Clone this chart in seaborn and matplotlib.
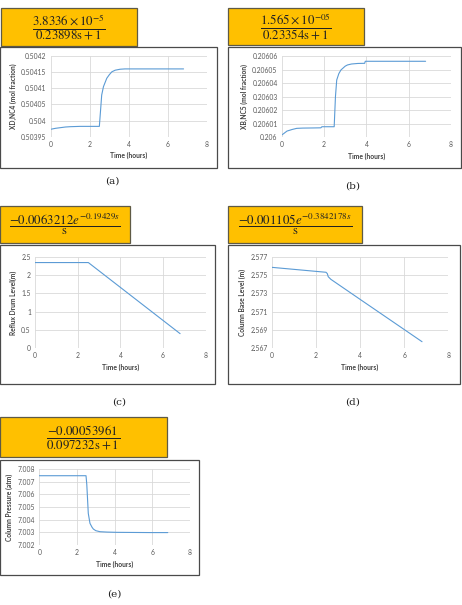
import numpy as np
import seaborn as sns
import matplotlib.pyplot as plt
from matplotlib.patches import Rectangle

# (a) distillate NC4 composition
t_a = [0, 0.25, 0.5, 0.75, 1.0, 1.5, 2.0, 2.49, 2.55, 2.61, 2.7, 2.87, 3.0, 3.13, 3.3, 3.55, 3.8, 4.07, 5.0, 6.0, 6.8]
xd_nc4 = [0.503973, 0.503976, 0.503978, 0.503980, 0.503981, 0.503982, 0.503982, 0.503982, 0.504030, 0.504079,
          0.504105, 0.504131, 0.504142, 0.504151, 0.504156, 0.504159, 0.504160, 0.504160, 0.504160, 0.504160, 0.504160]
ticks_a = [0.50395, 0.504, 0.50405, 0.5041, 0.50415, 0.5042]
labels_a = ['0.50395', '0.504', '0.50405', '0.5041', '0.50415', '0.5042']

# (b) bottoms NC5 composition
t_b = [0, 0.1, 0.25, 0.5, 0.71, 1.0, 1.5, 1.85, 1.9, 2.48, 2.54, 2.6, 2.7, 2.8, 3.0, 3.11, 3.3, 3.6, 3.92, 3.95, 5.0, 6.0, 6.8]
xb_nc5 = [0.2060017, 0.2060028, 0.2060046, 0.2060058, 0.2060066, 0.2060068, 0.2060069, 0.2060070, 0.2060078,
          0.2060078, 0.2060300, 0.2060423, 0.2060470, 0.2060497, 0.2060525, 0.2060534, 0.2060541, 0.2060545,
          0.2060546, 0.2060561, 0.2060561, 0.2060561, 0.2060561]
ticks_b = [0.206, 0.20601, 0.20602, 0.20603, 0.20604, 0.20605, 0.20606]
labels_b = ['0.206', '0.20601', '0.20602', '0.20603', '0.20604', '0.20605', '0.20606']

# (c) reflux drum level
t_c = [0, 2.5, 6.8]
reflux_level = [2.34, 2.34, 0.40]
ticks_c = [0, 0.5, 1, 1.5, 2, 2.5]
labels_c = ['0', '0.5', '1', '1.5', '2', '2.5']

# (d) column base level
t_d = [0, 1.0, 2.0, 2.46, 2.52, 2.56, 2.68, 4.0, 5.5, 6.81]
base_level = [2.57584, 2.57562, 2.57540, 2.57530, 2.57515, 2.57482, 2.57453, 2.57235, 2.56988, 2.56772]
ticks_d = [2.567, 2.569, 2.571, 2.573, 2.575, 2.577]
labels_d = ['2.567', '2.569', '2.571', '2.573', '2.575', '2.577']

# (e) column pressure
t_e = [0, 2.48, 2.52, 2.55, 2.6, 2.69, 2.8, 2.87, 3.0, 3.22, 3.6, 4.1, 5.0, 6.0, 6.82]
pressure = [7.00747, 7.00747, 7.0068, 7.00595, 7.0045, 7.00371, 7.0034, 7.00326, 7.00313, 7.00305, 7.00302,
            7.00300, 7.00299, 7.00298, 7.00298]
ticks_e = [7.002, 7.003, 7.004, 7.005, 7.006, 7.007, 7.008]
labels_e = ['7.002', '7.003', '7.004', '7.005', '7.006', '7.007', '7.008']

x_ticks = [0, 2, 4, 6, 8]

sns.set_style('white')
plt.rcParams['font.family'] = ['Lato', 'DejaVu Sans']
plt.rcParams['mathtext.fontset'] = 'stix'

W, H = 462, 605
fig = plt.figure(figsize=(W / 100, H / 100), dpi=100)


def rect(x0, y0, x1, y1):
    return [x0 / W, 1 - y1 / H, (x1 - x0) / W, (y1 - y0) / H]


def box(x0, y0, x1, y1, fc, ec, lw):
    r = Rectangle((x0 / W, 1 - y1 / H), (x1 - x0) / W, (y1 - y0) / H, transform=fig.transFigure,
                  facecolor=fc, edgecolor=ec, linewidth=lw, zorder=0)
    fig.add_artist(r)


def panel(ybox, formula, cbox, plot, tag, tagpos, t, y, ticks, labels, ylabel):
    box(*ybox, '#FFC000', '#5f5a45', 0.9)
    fig.text((ybox[0] + ybox[2]) / 2 / W, 1 - (ybox[1] + ybox[3]) / 2 / H, formula,
             ha='center', va='center', fontsize=9.3, color='#222222')
    box(*cbox, 'white', '#4a4a4a', 0.9)
    ax = fig.add_axes(rect(*plot))
    ax.patch.set_alpha(0)
    sns.lineplot(x=t, y=y, ax=ax, color='#5B9BD5', linewidth=0.8)
    ax.set_xlim(0, 8)
    ax.set_ylim(ticks[0], ticks[-1])
    ax.set_xticks(x_ticks)
    ax.set_xticklabels([str(v) for v in x_ticks])
    ax.set_yticks(ticks)
    ax.set_yticklabels(labels)
    ax.tick_params(length=0, labelsize=4.9, colors='#595959', pad=3)
    ax.grid(True, color='#D9D9D9', linewidth=0.6)
    for s in ax.spines.values():
        s.set_visible(False)
    ax.set_xlabel('Time (hours)', fontsize=4.9, fontweight='bold', color='#404040', labelpad=3)
    ax.set_ylabel(ylabel, fontsize=4.8, fontweight='bold', color='#404040', labelpad=3)
    fig.text(tagpos[0] / W, 1 - tagpos[1] / H, tag, ha='center', va='center', fontsize=7.5,
             family='DejaVu Serif', color='#222222')
    return ax


panel((1, 8, 137, 46), r'$\dfrac{3.8336\times10^{-5}}{0.23898\mathrm{s}+1}$',
      (0, 47, 217, 168), (50.7, 56, 207, 136.7), '(a)', (112, 181),
      t_a, xd_nc4, ticks_a, labels_a, 'XD,NC4 (mol fraction)')

panel((228, 8, 364, 45), r'$\dfrac{1.565\times10^{-05}}{0.23354\mathrm{s}+1}$',
      (228, 47, 461, 168), (281.7, 56, 451, 137.3), '(b)', (353, 186),
      t_b, xb_nc5, ticks_b, labels_b, 'XB,NC5 (mol fraction)')

panel((0, 206, 130, 243), r'$\dfrac{-0.0063212e^{-0.19429s}}{\mathrm{s}}$',
      (0, 245, 215, 384), (35, 256.7, 205.7, 348.3), '(c)', (119, 402),
      t_c, reflux_level, ticks_c, labels_c, 'Reflux Drum Level(m)')

panel((228, 206, 362, 243), r'$\dfrac{-0.001105e^{-0.3842178s}}{\mathrm{s}}$',
      (228, 245, 460, 384), (271.7, 256.7, 448.3, 348.3), '(d)', (353, 402),
      t_d, base_level, ticks_d, labels_d, 'Column Base Level (m)')

panel((0, 417, 167, 457), r'$\dfrac{-0.00053961}{0.097232\mathrm{s}+1}$',
      (0, 460, 199, 575), (39.3, 469, 190, 545), '(e)', (114, 594),
      t_e, pressure, ticks_e, labels_e, 'Column Pressure (atm)')

fig.savefig('out.png', dpi=100)
